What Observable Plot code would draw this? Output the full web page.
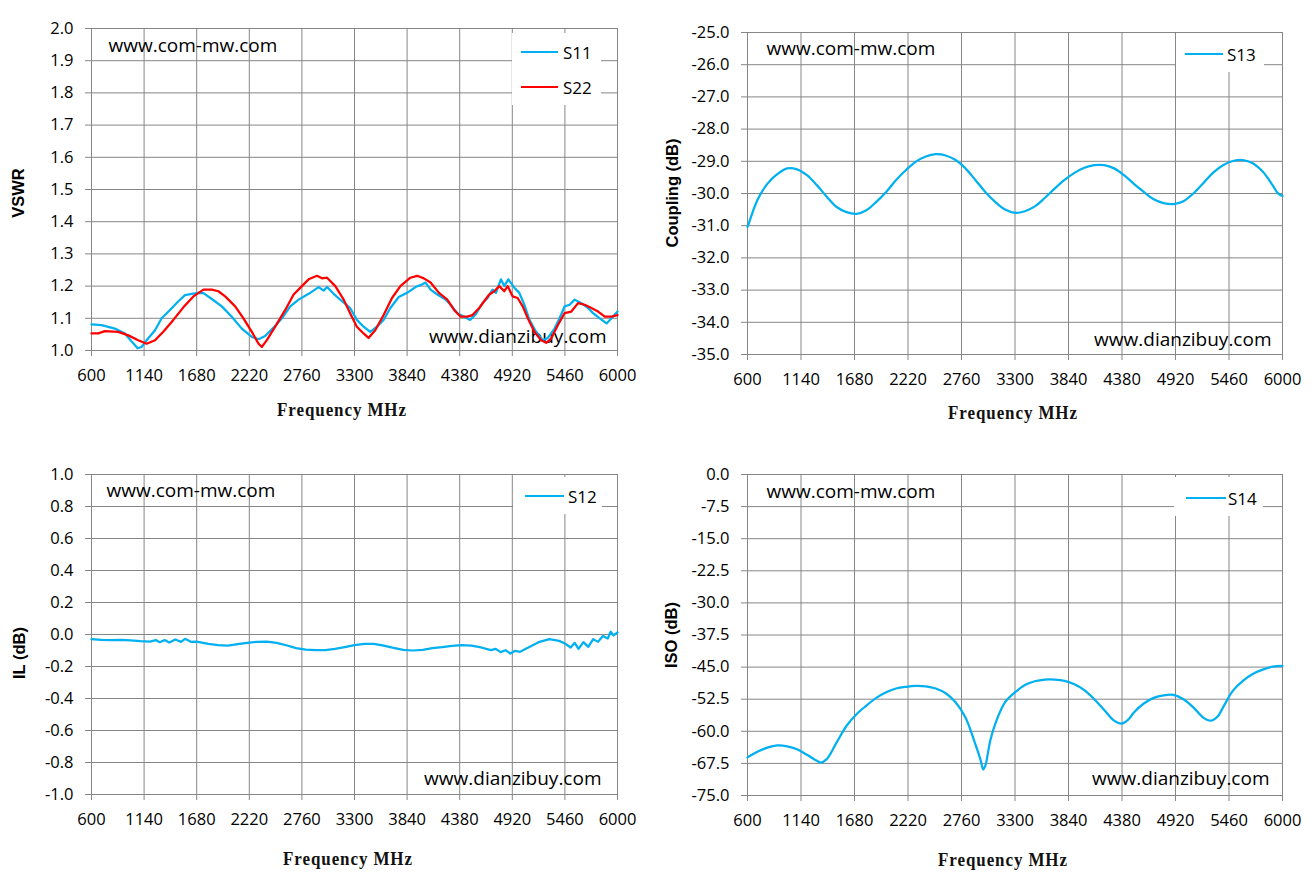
<!DOCTYPE html>
<html>
<head>
<meta charset="utf-8">
<script src="https://cdn.jsdelivr.net/npm/d3@7"></script>
<script src="https://cdn.jsdelivr.net/npm/@observablehq/plot@0.6"></script>
<style>
  html, body { margin: 0; padding: 0; background: #fff; }
  #page { position: relative; width: 1312px; height: 887px; background: #fff; overflow: hidden; }
  .pnl { position: absolute; }
  .xt { position: absolute; transform: translate(-50%, -50%) scale(1, 1.1); font-family: "Liberation Serif", "Times New Roman", serif; font-weight: bold; font-size: 17px; letter-spacing: 0.9px; white-space: pre; color: #111; line-height: 1; }
  .yt { position: absolute; transform: translate(-50%, -50%) rotate(-90deg); font-family: "Liberation Sans", Arial, sans-serif; font-weight: bold; font-size: 16.5px; white-space: pre; color: #000; }
  .lg { position: absolute; background: #fff; }
  .lgi { position: absolute; height: 0; border-top: 2.25px solid; }
  .lgt { position: absolute; transform: translateY(-50%); font-family: "Open Sans", sans-serif; font-size: 17px; color: #000; line-height: 1; }
</style>
</head>
<body>
<div id="page"></div>
<script>
// ---- tick values ----
const xTicks = [600, 1140, 1680, 2220, 2760, 3300, 3840, 4380, 4920, 5460, 6000];
const vswrTicks = [1.0, 1.1, 1.2, 1.3, 1.4, 1.5, 1.6, 1.7, 1.8, 1.9, 2.0];
const couplingTicks = [-35, -34, -33, -32, -31, -30, -29, -28, -27, -26, -25];
const ilTicks = [-1.0, -0.8, -0.6, -0.4, -0.2, 0.0, 0.2, 0.4, 0.6, 0.8, 1.0];
const isoTicks = [-75, -67.5, -60, -52.5, -45, -37.5, -30, -22.5, -15, -7.5, 0];

// ---- series (MHz, value) ----
const s11Freq = [600, 703, 840, 943, 1012, 1074, 1115, 1166, 1252, 1320, 1406, 1492, 1560, 1629, 1697, 1749, 1835, 1938, 2040, 2143, 2246, 2315, 2383, 2469, 2555, 2640, 2726, 2829, 2932, 2983, 3018, 3086, 3172, 3255, 3324, 3393, 3462, 3530, 3599, 3668, 3754, 3840, 3926, 3978, 4029, 4081, 4150, 4236, 4287, 4356, 4425, 4487, 4545, 4614, 4666, 4717, 4752, 4803, 4838, 4879, 4941, 4992, 5044, 5096, 5164, 5233, 5285, 5354, 5405, 5457, 5509, 5560, 5629, 5698, 5749, 5818, 5887, 5938, 6000];
const s11 = [1.081, 1.079, 1.068, 1.053, 1.028, 1.007, 1.011, 1.032, 1.063, 1.100, 1.126, 1.153, 1.172, 1.176, 1.179, 1.178, 1.160, 1.137, 1.105, 1.068, 1.042, 1.035, 1.045, 1.071, 1.100, 1.137, 1.158, 1.176, 1.197, 1.186, 1.197, 1.176, 1.153, 1.132, 1.095, 1.074, 1.058, 1.074, 1.095, 1.132, 1.166, 1.179, 1.197, 1.203, 1.211, 1.189, 1.174, 1.158, 1.142, 1.116, 1.105, 1.095, 1.113, 1.147, 1.163, 1.189, 1.179, 1.221, 1.200, 1.221, 1.195, 1.179, 1.142, 1.095, 1.058, 1.032, 1.039, 1.068, 1.100, 1.137, 1.142, 1.158, 1.147, 1.132, 1.116, 1.100, 1.084, 1.100, 1.121];

const s22Freq = [600, 669, 737, 875, 978, 1080, 1166, 1252, 1337, 1440, 1543, 1646, 1749, 1835, 1903, 1972, 2075, 2160, 2246, 2315, 2349, 2400, 2486, 2589, 2675, 2760, 2829, 2915, 2966, 3018, 3103, 3189, 3255, 3324, 3393, 3444, 3513, 3599, 3685, 3771, 3874, 3943, 4012, 4081, 4167, 4253, 4322, 4390, 4459, 4511, 4580, 4631, 4683, 4735, 4786, 4838, 4872, 4924, 4975, 5027, 5079, 5147, 5216, 5268, 5319, 5388, 5457, 5526, 5595, 5663, 5732, 5801, 5870, 5938, 6000];
const s22 = [1.053, 1.053, 1.060, 1.058, 1.047, 1.032, 1.021, 1.032, 1.058, 1.095, 1.134, 1.168, 1.189, 1.189, 1.184, 1.168, 1.137, 1.100, 1.058, 1.021, 1.011, 1.032, 1.074, 1.126, 1.174, 1.200, 1.221, 1.232, 1.224, 1.226, 1.200, 1.158, 1.116, 1.074, 1.053, 1.039, 1.063, 1.110, 1.163, 1.200, 1.226, 1.232, 1.224, 1.211, 1.179, 1.158, 1.126, 1.105, 1.105, 1.110, 1.132, 1.153, 1.174, 1.184, 1.200, 1.184, 1.200, 1.168, 1.163, 1.137, 1.100, 1.058, 1.032, 1.024, 1.037, 1.079, 1.116, 1.121, 1.147, 1.142, 1.132, 1.121, 1.105, 1.105, 1.110];

const s13Freq = [600, 650, 700, 800, 900, 1000, 1100, 1200, 1300, 1400, 1500, 1600, 1700, 1800, 1900, 2000, 2100, 2200, 2300, 2400, 2500, 2600, 2700, 2800, 2900, 3000, 3100, 3200, 3300, 3400, 3500, 3600, 3700, 3800, 3900, 4000, 4100, 4200, 4300, 4400, 4500, 4600, 4700, 4800, 4900, 5000, 5100, 5200, 5300, 5400, 5500, 5600, 5700, 5800, 5900, 5950, 6000];
const s13 = [-31.04, -30.60, -30.20, -29.70, -29.40, -29.22, -29.25, -29.43, -29.74, -30.10, -30.42, -30.58, -30.63, -30.52, -30.26, -29.95, -29.58, -29.27, -29.01, -28.85, -28.78, -28.82, -28.96, -29.22, -29.58, -29.95, -30.26, -30.50, -30.60, -30.55, -30.40, -30.14, -29.85, -29.58, -29.36, -29.20, -29.12, -29.12, -29.22, -29.43, -29.70, -29.95, -30.18, -30.30, -30.33, -30.24, -30.00, -29.68, -29.35, -29.12, -28.99, -28.96, -29.06, -29.32, -29.74, -29.98, -30.08];

const s12Freq = [600, 700, 800, 900, 1000, 1100, 1200, 1260, 1300, 1350, 1400, 1460, 1520, 1560, 1620, 1680, 1800, 1900, 2000, 2100, 2200, 2300, 2400, 2500, 2600, 2700, 2800, 2900, 3000, 3100, 3200, 3300, 3400, 3500, 3600, 3700, 3800, 3900, 4000, 4100, 4200, 4300, 4400, 4500, 4600, 4700, 4750, 4800, 4850, 4900, 4950, 5000, 5100, 5200, 5300, 5400, 5460, 5520, 5560, 5600, 5650, 5700, 5750, 5800, 5850, 5900, 5930, 5960, 6000];
const s12 = [-0.029, -0.033, -0.035, -0.033, -0.037, -0.042, -0.044, -0.035, -0.048, -0.035, -0.050, -0.031, -0.046, -0.027, -0.046, -0.044, -0.058, -0.067, -0.069, -0.060, -0.052, -0.046, -0.044, -0.052, -0.067, -0.085, -0.094, -0.098, -0.098, -0.090, -0.079, -0.067, -0.058, -0.058, -0.069, -0.083, -0.096, -0.100, -0.096, -0.085, -0.079, -0.071, -0.067, -0.069, -0.081, -0.098, -0.090, -0.110, -0.098, -0.119, -0.102, -0.108, -0.077, -0.046, -0.029, -0.040, -0.056, -0.081, -0.052, -0.090, -0.048, -0.077, -0.029, -0.046, -0.010, -0.025, 0.017, -0.006, 0.013];

const s14Freq = [600, 700, 800, 900, 1000, 1100, 1200, 1300, 1340, 1400, 1500, 1600, 1700, 1800, 1900, 2000, 2100, 2200, 2300, 2400, 2500, 2600, 2700, 2800, 2900, 2950, 2980, 3000, 3050, 3100, 3200, 3300, 3400, 3500, 3600, 3700, 3800, 3900, 4000, 4100, 4200, 4300, 4380, 4450, 4500, 4600, 4700, 4800, 4900, 5000, 5100, 5200, 5280, 5350, 5400, 5500, 5600, 5700, 5800, 5900, 6000];
const s14 = [-66.1, -64.8, -63.8, -63.3, -63.5, -64.2, -65.5, -66.9, -67.3, -66.5, -62.6, -58.7, -56.0, -54.0, -52.2, -50.9, -50.0, -49.6, -49.4, -49.5, -50.0, -51.1, -53.2, -56.8, -63.0, -66.5, -68.9, -68.1, -62.2, -58.3, -53.2, -50.9, -49.2, -48.3, -47.9, -47.9, -48.2, -49.0, -50.4, -52.5, -55.0, -57.5, -58.2, -57.1, -55.6, -53.5, -52.2, -51.6, -51.5, -52.5, -54.4, -56.8, -57.5, -56.4, -54.4, -50.5, -48.2, -46.6, -45.6, -44.9, -44.7];

const BLUE = "#00B0F0", RED = "#FF0000", GRID = "#868686";
const toRows = (fs, vs) => fs.map((f, i) => ({ f, v: vs[i] }));

const page = document.getElementById("page");

function panel(cfg) {
  const marks = [
    Plot.gridY(cfg.yTicks, { stroke: GRID, strokeOpacity: 1, strokeWidth: 1 }),
    Plot.gridX(xTicks, { stroke: GRID, strokeOpacity: 1, strokeWidth: 1 }),
    Plot.axisX(xTicks, { tickSize: 6, tickPadding: 13, stroke: GRID, fill: "#000", fontSize: 16.5, tickFormat: d => String(d), label: null }),
    Plot.axisY(cfg.yTicks, { tickSize: 6, tickPadding: 12, stroke: GRID, fill: "#000", fontSize: 16.5, tickFormat: d => d.toFixed(1), label: null }),
    Plot.text(["www.com-mw.com"], { frameAnchor: "top-left", text: d => d, dx: cfg.wm1[0], dy: cfg.wm1[1], textAnchor: "start", lineAnchor: "middle", fontSize: 19, fill: "#000" }),
    Plot.text(["www.dianzibuy.com"], { frameAnchor: "bottom-right", text: d => d, dx: cfg.wm2[0], dy: cfg.wm2[1], textAnchor: "end", lineAnchor: "middle", fontSize: 19, fill: "#000" })
  ];
  for (const s of cfg.series) {
    marks.push(Plot.line(s.rows, { x: "f", y: "v", stroke: s.color, strokeWidth: 2.25, curve: s.curve || "linear" }));
  }
  const svg = Plot.plot({
    width: cfg.w, height: cfg.h,
    marginLeft: cfg.m[0], marginRight: cfg.m[1], marginTop: cfg.m[2], marginBottom: cfg.m[3],
    style: { fontFamily: "'Open Sans', sans-serif", fontSize: "16.5px", color: "#000", background: "transparent" },
    x: { type: "linear", domain: [600, 6000] },
    y: { type: "linear", domain: cfg.yDomain },
    marks
  });
  const d = document.createElement("div");
  d.className = "pnl";
  d.style.left = cfg.left + "px";
  d.style.top = cfg.top + "px";
  d.appendChild(svg);
  page.appendChild(d);
}

panel({ left: 0, top: 0, w: 650, h: 430, m: [91, 33, 28, 80], yDomain: [1.0, 2.0], yTicks: vswrTicks,
  wm1: [17, 17], wm2: [-11, -14],
  series: [{ rows: toRows(s11Freq, s11), color: BLUE }, { rows: toRows(s22Freq, s22), color: RED }] });
panel({ left: 650, top: 0, w: 662, h: 430, m: [97, 30, 32, 76], yDomain: [-35, -25], yTicks: couplingTicks,
  wm1: [19, 16], wm2: [-11, -15],
  series: [{ rows: toRows(s13Freq, s13), color: BLUE, curve: "catmull-rom" }] });
panel({ left: 0, top: 450, w: 650, h: 437, m: [91, 33, 24, 93], yDomain: [-1.0, 1.0], yTicks: ilTicks,
  wm1: [15, 16], wm2: [-16, -16],
  series: [{ rows: toRows(s12Freq, s12), color: BLUE }] });
panel({ left: 650, top: 450, w: 662, h: 437, m: [97, 30, 24, 92], yDomain: [-75, 0], yTicks: isoTicks,
  wm1: [19, 17], wm2: [-13, -17],
  series: [{ rows: toRows(s14Freq, s14), color: BLUE, curve: "catmull-rom" }] });

// ---- axis titles ----
function addText(cls, txt, x, y) {
  const d = document.createElement("div");
  d.className = cls; d.textContent = txt;
  d.style.left = x + "px"; d.style.top = y + "px";
  page.appendChild(d);
}
addText("xt", "Frequency MHz", 342, 410);
addText("xt", "Frequency MHz", 1013, 413);
addText("xt", "Frequency MHz", 348, 859);
addText("xt", "Frequency MHz", 1003, 860);
addText("yt", "VSWR", 18, 193);
addText("yt", "Coupling (dB)", 672, 193);
addText("yt", "IL (dB)", 19, 653);
addText("yt", "ISO (dB)", 671, 635);

// ---- legends ----
function legend(box, items) {
  const b = document.createElement("div");
  b.className = "lg";
  b.style.left = box[0] + "px"; b.style.top = box[1] + "px";
  b.style.width = box[2] + "px"; b.style.height = box[3] + "px";
  page.appendChild(b);
  for (const it of items) {
    const l = document.createElement("div");
    l.className = "lgi";
    l.style.left = it.x0 + "px"; l.style.width = (it.x1 - it.x0) + "px";
    l.style.top = (it.y - 1.1) + "px"; l.style.borderTopColor = it.color;
    page.appendChild(l);
    const t = document.createElement("div");
    t.className = "lgt"; t.textContent = it.label;
    t.style.left = it.tx + "px"; t.style.top = it.y + "px";
    page.appendChild(t);
  }
}
legend([512, 33, 89, 72], [
  { label: "S11", color: BLUE, x0: 521, x1: 558, tx: 563, y: 52 },
  { label: "S22", color: RED, x0: 521, x1: 558, tx: 563, y: 87 }
]);
legend([1176, 33, 88, 39], [{ label: "S13", color: BLUE, x0: 1185, x1: 1223, tx: 1227, y: 54 }]);
legend([513, 477, 89, 37], [{ label: "S12", color: BLUE, x0: 525, x1: 564, tx: 568, y: 496 }]);
legend([1174, 477, 89, 39], [{ label: "S14", color: BLUE, x0: 1186, x1: 1226, tx: 1228, y: 498 }]);
</script>
</body>
</html>
